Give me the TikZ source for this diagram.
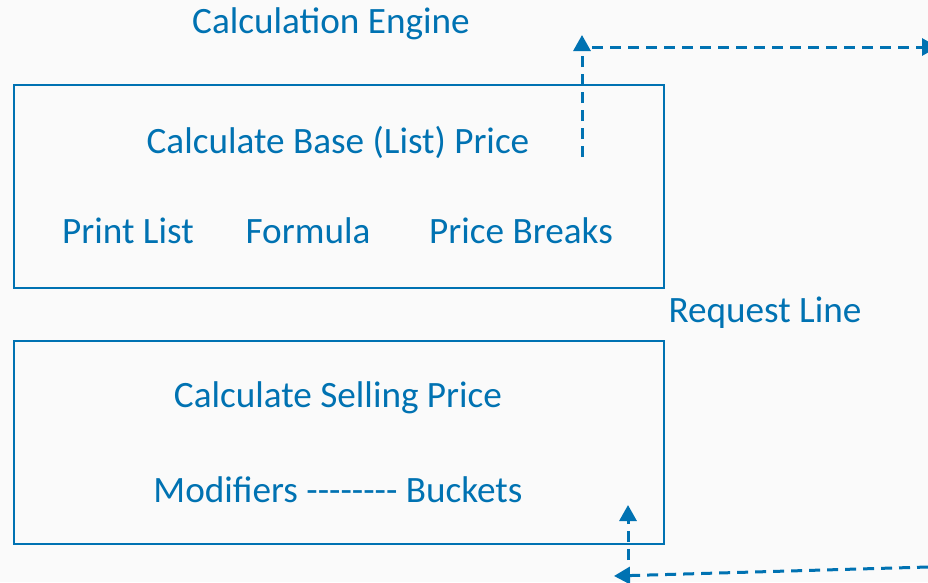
\documentclass[tikz,border=0pt]{standalone}
\usepackage{fontspec}
\setmainfont{Carlito}[Ligatures=TeXOff]
\usetikzlibrary{arrows.meta}
\definecolor{engblue}{RGB}{0,114,178}
\definecolor{bgcol}{RGB}{250,250,250}
\tikzset{
  lbl/.style={text=engblue, font=\fontsize{37.2}{40}\selectfont, anchor=base, inner sep=0pt},
  frame/.style={draw=engblue, line width=2.4pt},
  flow/.style={draw=engblue, line width=3pt, dash pattern=on 11pt off 7pt, -{Triangle[length=16pt,width=17pt]}}
}
\begin{document}
\begin{tikzpicture}[x=1pt,y=-1pt]
\fill[bgcol] (0,0) rectangle (928,582);
\useasboundingbox (0,0) rectangle (928,582);
\node[frame, minimum width=650pt, minimum height=203pt, anchor=north west, inner sep=0pt] (base) at (13,84) {};
\node[frame, minimum width=650pt, minimum height=203pt, anchor=north west, inner sep=0pt] (sell) at (13,340) {};
\node[lbl] (eng) at (331,33) {Calculation Engine};
\node[lbl] (cbp) at (338,153) {Calculate Base (List) Price};
\node[lbl] (pl) at (128,243) {Print List};
\node[lbl] (fo) at (308,243) {Formula};
\node[lbl] (pb) at (521,243) {Price Breaks};
\node[lbl] (rl) at (765,322) {Request Line};
\node[lbl] (csp) at (338,407) {Calculate Selling Price};
\node[lbl] (mb) at (338,502) {Modifiers -------- Buckets};
\coordinate (u0) at (582,157);
\coordinate (u1) at (582,35);
\coordinate (h0) at (592,47);
\coordinate (h1) at (938,47);
\coordinate (b0) at (928,567);
\coordinate (b1) at (614,576);
\coordinate (v0) at (628,560);
\coordinate (v1) at (628,505);
\draw[flow] (u0) -- (u1);
\draw[flow] (h0) -- (h1);
\draw[flow] (b0) -- (b1);
\draw[flow] (v0) -- (v1);
\end{tikzpicture}
\end{document}
